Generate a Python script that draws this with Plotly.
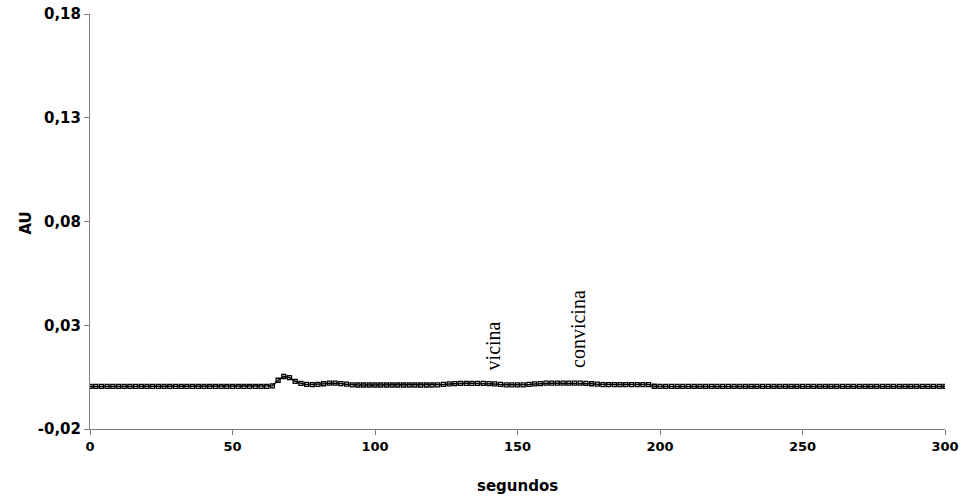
import plotly.graph_objects as go

# time in seconds (every 2 s)
seconds = list(range(0, 302, 2))

# absorbance (AU)
au = [
    0.0005, 0.0005, 0.0005, 0.0005, 0.0005, 0.0005, 0.0005, 0.0005, 0.0005, 0.0005,  # 0-18
    0.0005, 0.0005, 0.0005, 0.0005, 0.0005, 0.0005, 0.0005, 0.0005, 0.0005, 0.0005,  # 20-38
    0.0005, 0.0005, 0.0005, 0.0005, 0.0005, 0.0005, 0.0005, 0.0005, 0.0005, 0.0005,  # 40-58
    0.0005, 0.0005, 0.0008, 0.0035, 0.0053, 0.0048, 0.0030, 0.0020, 0.0015, 0.0014,  # 60-78
    0.0015, 0.0018, 0.0021, 0.0021, 0.0019, 0.0016, 0.0013, 0.0012, 0.0012, 0.0012,  # 80-98
    0.0012, 0.0012, 0.0012, 0.0012, 0.0012, 0.0012, 0.0012, 0.0012, 0.0012, 0.0012,  # 100-118
    0.0012, 0.0013, 0.0015, 0.0017, 0.0019, 0.0020, 0.0020, 0.0020, 0.0020, 0.0020,  # 120-138
    0.0019, 0.0017, 0.0015, 0.0013, 0.0013, 0.0013, 0.0013, 0.0015, 0.0017, 0.0019,  # 140-158
    0.0021, 0.0021, 0.0021, 0.0021, 0.0021, 0.0021, 0.0021, 0.0020, 0.0018, 0.0016,  # 160-178
    0.0014, 0.0014, 0.0014, 0.0014, 0.0014, 0.0014, 0.0014, 0.0014, 0.0014, 0.0006,  # 180-198
    0.0005, 0.0005, 0.0005, 0.0005, 0.0005, 0.0005, 0.0005, 0.0005, 0.0005, 0.0005,  # 200-218
    0.0005, 0.0005, 0.0005, 0.0005, 0.0005, 0.0005, 0.0005, 0.0005, 0.0005, 0.0005,  # 220-238
    0.0005, 0.0005, 0.0005, 0.0005, 0.0005, 0.0005, 0.0005, 0.0005, 0.0005, 0.0005,  # 240-258
    0.0005, 0.0005, 0.0005, 0.0005, 0.0005, 0.0005, 0.0005, 0.0005, 0.0005, 0.0005,  # 260-278
    0.0005, 0.0005, 0.0005, 0.0005, 0.0005, 0.0005, 0.0005, 0.0005, 0.0005, 0.0005,  # 280-298
    0.0005,  # 300
]

y_tick_vals = [-0.02, 0.03, 0.08, 0.13, 0.18]
y_tick_text = ["-0,02", "0,03", "0,08", "0,13", "0,18"]
x_tick_vals = [0, 50, 100, 150, 200, 250, 300]

peak_names = ["vicina", "convicina"]
peak_x = [141.4, 171.2]
peak_y = [0.0075, 0.0084]

fig = go.Figure()
fig.add_trace(go.Scatter(
    x=seconds, y=au, mode="lines+markers",
    line=dict(color="black", width=1.5),
    marker=dict(symbol="square-open", size=4, color="black", line=dict(width=1.3)),
    showlegend=False,
))

for name, px, py in zip(peak_names, peak_x, peak_y):
    fig.add_annotation(
        x=px, y=py, text=name, showarrow=False, textangle=-90,
        xanchor="center", yanchor="bottom",
        font=dict(family="Liberation Serif", size=20, color="black"),
    )

# axis titles
fig.add_annotation(
    x=0.5, y=-0.02, xref="paper", yref="y", yshift=-57, text="<b>segundos</b>",
    showarrow=False, xanchor="center", yanchor="middle",
    font=dict(family="DejaVu Sans", size=15, color="black"),
)
fig.add_annotation(
    x=0, xref="paper", xshift=-64, y=0.079, yref="y", text="<b>AU</b>",
    showarrow=False, textangle=-90, xanchor="center", yanchor="middle",
    font=dict(family="DejaVu Sans", size=15, color="black"),
)

fig.update_layout(
    width=965, height=501,
    margin=dict(l=90, r=20, t=14, b=72),
    paper_bgcolor="white", plot_bgcolor="white",
    font=dict(family="DejaVu Sans", color="black"),
)
fig.update_xaxes(
    range=[0, 300], tickvals=x_tick_vals,
    ticks="outside", ticklen=5, tickcolor="#808080",
    showline=True, linecolor="#808080", linewidth=1,
    showgrid=False, zeroline=False, automargin=False,
    tickfont=dict(family="DejaVu Sans", size=13, color="black", weight="bold"),
)
fig.update_yaxes(
    range=[-0.02, 0.18], tickvals=y_tick_vals, ticktext=y_tick_text,
    ticks="outside", ticklen=5, tickcolor="#808080",
    showline=True, linecolor="#808080", linewidth=1,
    showgrid=False, zeroline=False, automargin=False,
    tickfont=dict(family="DejaVu Sans", size=15, color="black", weight="bold"),
)

fig.write_html("out.html", config={"displayModeBar": False},
               post_script="document.body.style.margin='0';")
